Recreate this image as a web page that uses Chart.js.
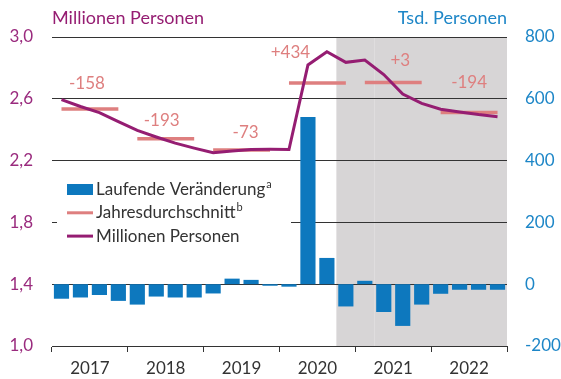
<!DOCTYPE html>
<html>
<head>
<meta charset="utf-8">
<script src="https://cdn.jsdelivr.net/npm/chart.js@4"></script>
<style>
  html, body { margin: 0; padding: 0; background: #fff; }
</style>
</head>
<body>
<canvas id="graph" width="561" height="379"></canvas>
<script>
const years = ['2017', '2018', '2019', '2020', '2021', '2022'];
const quarters = years.flatMap(y => ['Q1 ' + y, 'Q2 ' + y, 'Q3 ' + y, 'Q4 ' + y]);

// quarterly change, thousand persons (right axis)
const changeTsd = [-47, -43, -35, -54, -66, -40, -43, -43, -30, 18, 14, -5,
                   -8, 541, 85, -72, 11, -90, -135, -66, -31, -18, -18, -18];

// persons, millions (left axis)
const personsMio = [2.595, 2.550, 2.511, 2.452, 2.396, 2.353, 2.313, 2.281,
                    2.251, 2.262, 2.272, 2.273, 2.272, 2.819, 2.905, 2.836,
                    2.851, 2.757, 2.631, 2.570, 2.532, 2.515, 2.498, 2.484];

// change of the annual average vs. previous year, thousand persons
const avgChange = [-158, -193, -73, 434, 3, -194];
const avgFirstYear = 2.534;

const leftTicks = [1.0, 1.4, 1.8, 2.2, 2.6, 3.0];
const rightTicks = [-200, 0, 200, 400, 600, 800];

// annual average level, built from the first year and the stated changes
const avgLevel = avgChange.map((c, i) =>
  avgFirstYear + avgChange.slice(1, i + 1).reduce((s, v) => s + v, 0) / 1000);
const avgPerQuarter = quarters.map((q, i) => avgLevel[Math.floor(i / 4)]);

const FONT = 'Lato';
const PURPLE = '#951d72';
const PINK = '#de7f7f';
const BLUE = '#0d78be';
const GREY_TXT = '#333333';

// shaded range from Q4 2020 to the end, with a faint seam at Q2 2021
const shadePlugin = {
  id: 'shade',
  beforeDraw(chart) {
    const { ctx, chartArea: a, scales: { x } } = chart;
    const half = (x.getPixelForValue(1) - x.getPixelForValue(0)) / 2;
    const x0 = x.getPixelForValue(15) - half;
    const seam = x.getPixelForValue(17) - half;
    ctx.save();
    ctx.fillStyle = '#d7d5d6';
    ctx.fillRect(x0, a.top, a.right - x0, a.bottom - a.top);
    ctx.fillStyle = '#dfddde';
    ctx.fillRect(Math.round(seam), a.top, 1, a.bottom - a.top);
    ctx.restore();
  }
};

// axis titles, average change labels and the legend
const textPlugin = {
  id: 'texts',
  afterDatasetsDraw(chart, args, opts) {
    const { ctx, chartArea: a, scales: { x, y } } = chart;
    ctx.save();
    ctx.font = '18px ' + FONT;
    ctx.textBaseline = 'alphabetic';
    ctx.fillStyle = PURPLE;
    ctx.textAlign = 'left';
    ctx.fillText('Millionen Personen', a.left, 24);
    ctx.fillStyle = '#1d86c7';
    ctx.textAlign = 'right';
    ctx.fillText('Tsd. Personen', a.right, 24);

    // labels above each annual average bar
    ctx.font = '17px ' + FONT;
    ctx.fillStyle = PINK;
    ctx.textAlign = 'center';
    ctx.textBaseline = 'middle';
    avgChange.forEach((c, i) => {
      const cx = (x.getPixelForValue(i * 4 + 1) + x.getPixelForValue(i * 4 + 2)) / 2;
      const off = opts.labelOffsets[i];
      const txt = c > 0 ? '+' + c : String(c);
      ctx.fillText(txt, cx + off[0], y.getPixelForValue(avgLevel[i]) + off[1]);
    });

    // legend
    const lg = opts.legend;
    ctx.fillStyle = '#fff';
    ctx.fillRect(lg.x - 10, lg.y - 12, 234, 70);
    const ds = chart.data.datasets;
    const sups = ['a', 'b', ''];
    ds.forEach((d, i) => {
      const ry = lg.y + i * lg.row;
      if (d.type === 'line') {
        ctx.strokeStyle = d.borderColor;
        ctx.lineWidth = 3;
        ctx.beginPath();
        ctx.moveTo(lg.x, ry);
        ctx.lineTo(lg.x + 26, ry);
        ctx.stroke();
      } else {
        ctx.fillStyle = d.backgroundColor;
        ctx.fillRect(lg.x, ry - 5.5, 26, 11);
      }
      ctx.fillStyle = GREY_TXT;
      ctx.textAlign = 'left';
      ctx.textBaseline = 'middle';
      ctx.font = '17px ' + FONT;
      ctx.fillText(d.label, lg.x + 29, ry);
      const w = ctx.measureText(d.label).width;
      if (sups[i]) {
        ctx.font = '11px ' + FONT;
        ctx.fillText(sups[i], lg.x + 30 + w, ry - 5);
      }
    });
    ctx.restore();
  }
};

const ctx = document.getElementById('graph').getContext('2d');
const chart = new Chart(ctx, {
  type: 'bar',
  data: {
    labels: quarters,
    datasets: [
      {
        type: 'bar',
        label: 'Laufende Veränderung',
        data: changeTsd,
        backgroundColor: BLUE,
        xAxisID: 'x',
        yAxisID: 'y1',
        barPercentage: 0.8,
        categoryPercentage: 1.0,
        order: 3
      },
      {
        type: 'line',
        label: 'Jahresdurchschnitt',
        data: avgPerQuarter,
        borderColor: PINK,
        borderWidth: 3.5,
        pointRadius: 0,
        tension: 0,
        xAxisID: 'x',
        yAxisID: 'y',
        order: 2,
        segment: {
          borderColor: c => Math.floor(c.p0DataIndex / 4) === Math.floor(c.p1DataIndex / 4) ? PINK : 'rgba(0,0,0,0)'
        }
      },
      {
        type: 'line',
        label: 'Millionen Personen',
        data: personsMio,
        borderColor: PURPLE,
        borderWidth: 3,
        pointRadius: 0,
        tension: 0,
        xAxisID: 'x',
        yAxisID: 'y',
        order: 1
      }
    ]
  },
  options: {
    responsive: false,
    animation: false,
    devicePixelRatio: 1,
    layout: { padding: { top: 37, left: 0, right: 0, bottom: 0 } },
    plugins: {
      legend: { display: false },
      tooltip: { enabled: false },
      texts: {
        labelOffsets: [[-3, -25], [-4, -18], [4, -18], [-27, -31], [7, -22], [0, -30]],
        legend: { x: 67, y: 189.5, row: 23.3 }
      }
    },
    scales: {
      x: {
        display: false,
        offset: true,
        grid: { offset: true }
      },
      xYear: {
        type: 'category',
        labels: years,
        position: 'bottom',
        offset: true,
        grid: { offset: true, drawOnChartArea: false, color: GREY_TXT, tickLength: 6 },
        border: { display: true, color: GREY_TXT, width: 1 },
        ticks: { color: GREY_TXT, font: { family: FONT, size: 17 }, padding: 6, maxRotation: 0 },
        afterFit: s => { s.height = 33; }
      },
      y: {
        position: 'left',
        min: 1.0,
        max: 3.0,
        afterBuildTicks: s => { s.ticks = leftTicks.map(v => ({ value: v })); },
        grid: { color: GREY_TXT, lineWidth: 1, drawTicks: false },
        border: { display: false },
        ticks: {
          color: '#9a2b7e',
          font: { family: FONT, size: 17 },
          padding: 19,
          callback: v => v.toFixed(1).replace('.', ',')
        },
        afterFit: s => { s.width = 52; }
      },
      y1: {
        position: 'right',
        min: -200,
        max: 800,
        afterBuildTicks: s => { s.ticks = rightTicks.map(v => ({ value: v })); },
        grid: { display: false, drawTicks: false },
        border: { display: false },
        ticks: {
          color: '#1d86c7',
          font: { family: FONT, size: 17 },
          padding: 18
        },
        afterFit: s => { s.width = 54; }
      }
    }
  },
  plugins: [shadePlugin, textPlugin]
});
</script>
</body>
</html>
